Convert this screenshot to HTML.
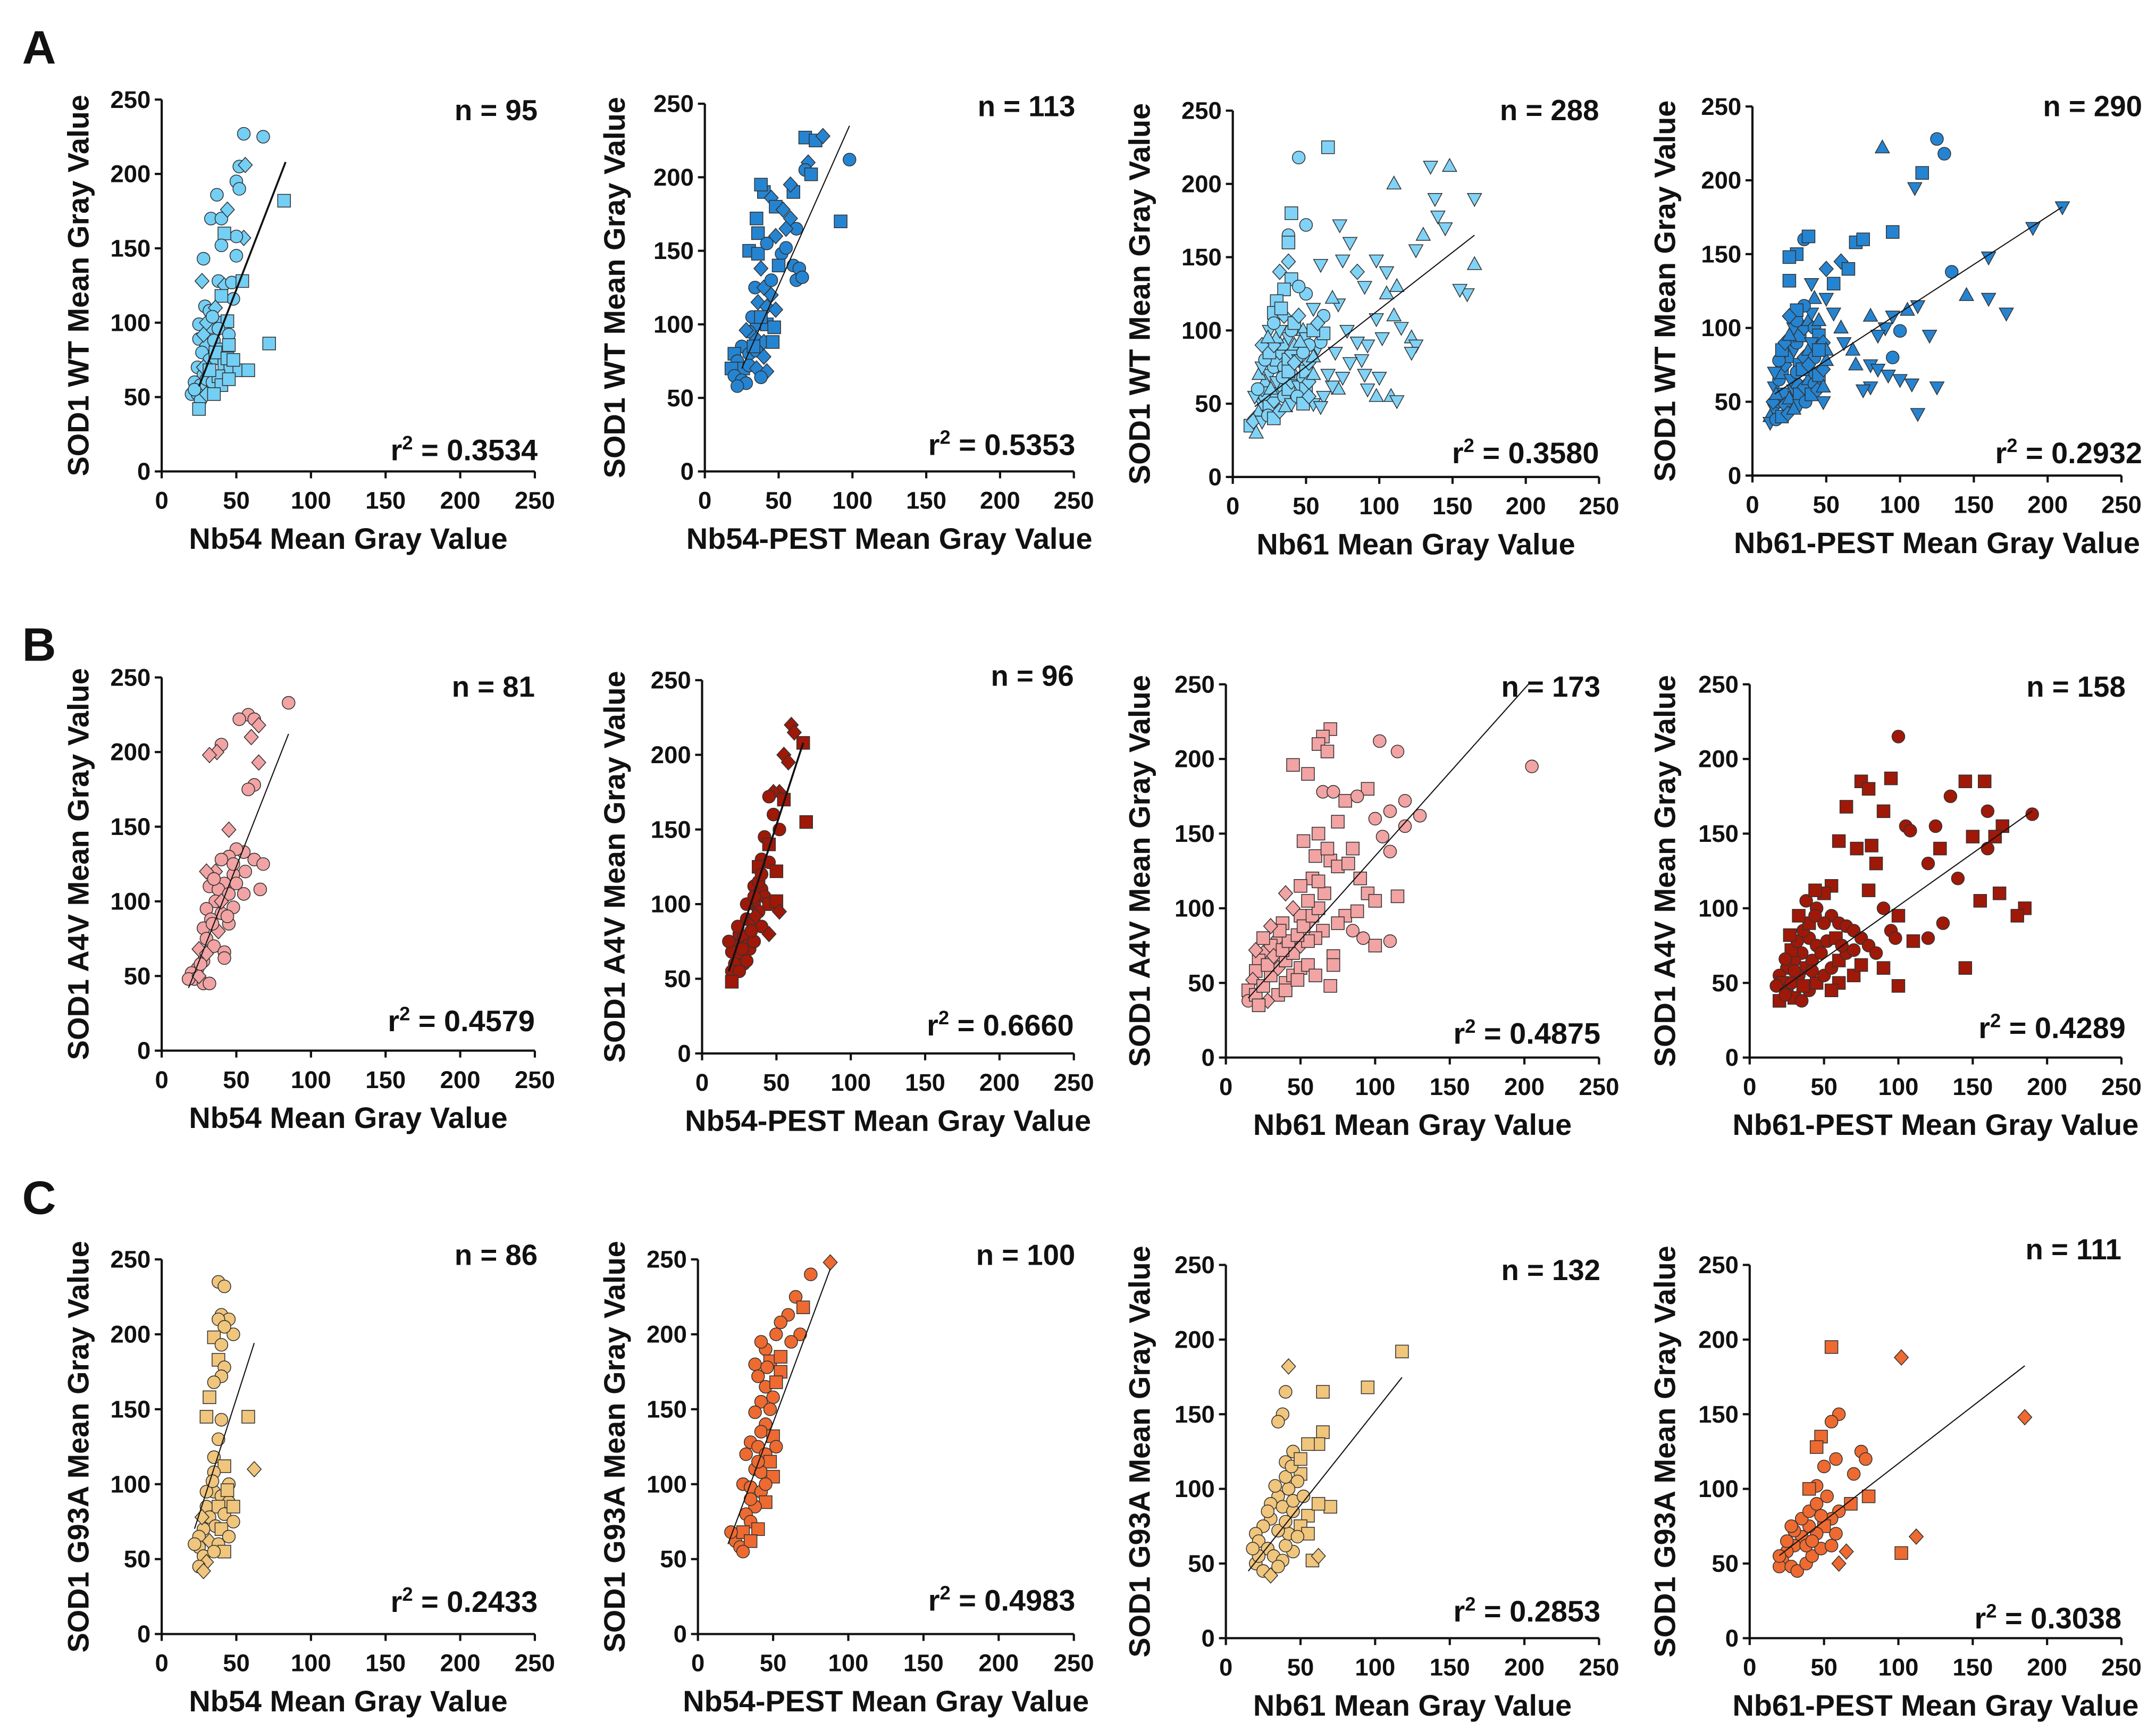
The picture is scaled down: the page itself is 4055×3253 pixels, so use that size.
<!DOCTYPE html>
<html><head><meta charset="utf-8"><style>
html,body{margin:0;padding:0;background:#fff}
svg{display:block}
text{font-family:"Liberation Sans",Arial,sans-serif;font-weight:bold;fill:#111}
</style></head><body>
<svg id="fig" xmlns="http://www.w3.org/2000/svg" width="4055" height="3253" viewBox="0 0 1560 1251.4">
<rect width="1560" height="1251.4" fill="#fff"/>
<text x="16" y="46" font-size="34">A</text>
<text x="16" y="478" font-size="34">B</text>
<text x="16" y="878" font-size="34">C</text>
</svg>
<script>
// ---- data (x, y, shape) ----
const A1=[[55,227,'c'],[68,225,'c'],[52,205,'c'],[56,206,'d'],[50,195,'c'],[52,190,'c'],[37,186,'c'],[33,170,'c'],[40,170,'c'],[44,176,'d'],[55,157,'d'],[50,158,'c'],[42,160,'s'],[40,152,'c'],[50,145,'c'],[28,143,'c'],[27,128,'d'],[38,128,'c'],[42,125,'d'],[47,127,'c'],[54,128,'s'],[48,116,'c'],[40,118,'s'],[29,111,'c'],[32,108,'c'],[36,110,'d'],[38,100,'s'],[44,101,'s'],[25,99,'c'],[33,97,'c'],[38,96,'c'],[45,92,'c'],[25,89,'c'],[30,85,'d'],[35,88,'c'],[40,82,'s'],[45,85,'s'],[27,80,'c'],[32,75,'c'],[36,76,'c'],[42,72,'s'],[46,70,'s'],[52,68,'s'],[58,68,'s'],[72,86,'s'],[82,182,'s'],[24,70,'c'],[28,65,'c'],[22,60,'c'],[26,58,'c'],[30,62,'c'],[34,60,'c'],[38,64,'s'],[40,58,'s'],[45,62,'s'],[20,52,'c'],[24,52,'c'],[26,48,'c'],[30,52,'d'],[35,52,'s'],[25,42,'s'],[22,55,'c'],[28,70,'d'],[32,68,'s'],[36,80,'s'],[44,76,'s'],[48,75,'s'],[30,100,'d'],[34,104,'c'],[28,92,'d']];
const A2=[[68,227,'s'],[75,225,'s'],[80,228,'d'],[70,210,'d'],[68,205,'c'],[72,202,'s'],[98,212,'c'],[92,170,'s'],[60,190,'s'],[40,190,'s'],[38,195,'s'],[45,186,'d'],[48,180,'s'],[53,178,'d'],[58,172,'d'],[62,165,'c'],[35,172,'s'],[36,162,'s'],[30,150,'s'],[36,148,'s'],[42,155,'c'],[48,160,'d'],[52,148,'c'],[55,152,'c'],[60,140,'c'],[64,138,'c'],[62,130,'c'],[66,132,'c'],[38,138,'d'],[34,125,'c'],[40,125,'d'],[45,120,'d'],[36,115,'d'],[42,112,'d'],[48,110,'d'],[35,100,'c'],[42,100,'s'],[47,98,'s'],[30,95,'c'],[35,90,'d'],[40,88,'d'],[46,88,'s'],[25,85,'c'],[30,80,'c'],[35,82,'c'],[40,78,'d'],[20,80,'s'],[22,75,'c'],[26,70,'s'],[30,72,'c'],[35,70,'d'],[18,70,'s'],[20,65,'c'],[25,62,'c'],[28,60,'c'],[42,68,'d'],[38,64,'c'],[32,105,'c'],[28,96,'d'],[45,130,'c'],[50,140,'s'],[55,165,'d'],[58,195,'d'],[22,58,'c'],[33,85,'s'],[38,105,'s']];
const A3=[[65,225,'s'],[45,218,'c'],[50,172,'c'],[40,180,'s'],[38,165,'c'],[38,160,'s'],[32,140,'d'],[38,147,'d'],[40,135,'s'],[73,172,'v'],[60,145,'v'],[80,160,'v'],[75,148,'v'],[98,148,'v'],[105,140,'v'],[90,130,'v'],[85,140,'d'],[110,200,'t'],[135,212,'v'],[148,212,'t'],[138,190,'v'],[165,190,'v'],[140,178,'v'],[145,170,'v'],[130,165,'t'],[125,155,'v'],[165,145,'t'],[160,125,'v'],[155,128,'v'],[112,130,'t'],[105,125,'t'],[98,108,'v'],[110,110,'t'],[115,102,'v'],[122,95,'t'],[125,90,'v'],[122,85,'v'],[102,95,'v'],[92,90,'v'],[85,92,'v'],[88,80,'v'],[80,78,'v'],[90,70,'v'],[75,68,'v'],[72,60,'t'],[100,68,'v'],[92,60,'v'],[98,55,'t'],[108,55,'t'],[112,52,'v'],[62,55,'v'],[55,50,'v'],[60,48,'v'],[68,62,'v'],[65,70,'v'],[70,85,'v'],[78,100,'v'],[62,110,'c'],[72,118,'v'],[68,122,'t'],[55,115,'v'],[50,125,'c'],[45,130,'c'],[35,128,'s'],[30,120,'s'],[28,112,'s'],[35,110,'d'],
[15,40],[18,45],[20,50],[22,55],[25,48],[28,52],[30,58],[32,62],[35,55],[38,60],[40,65],[42,70],[45,62],[48,68],[50,72],[52,78],[55,82],[58,88],[60,92],[62,98],[20,60],[22,65],[25,70],[28,75],[30,80],[32,85],[35,90],[38,95],[40,100],[42,105],[45,110],[48,100],[50,95],[52,90],[55,100],[58,105],[18,70],[20,75],[22,80],[25,85],[28,90],[30,95],[32,100],[35,75],[38,80],[40,85],[42,90],[45,80],[48,85],[50,60],[52,65],[55,70],[15,55],[17,60],[12,35],[14,38],[16,30],[20,38],[24,42],[28,40],[32,45],[36,48],[40,50],[44,55],[48,50],[52,55],[26,60],[30,65],[34,68],[38,72],[42,78],[46,92],[25,100],[28,105],[33,115],[20,90],[24,95]];
const A4=[[125,228,'c'],[130,218,'c'],[88,222,'t'],[115,205,'s'],[110,195,'v'],[95,165,'s'],[70,158,'s'],[75,160,'s'],[60,145,'d'],[65,140,'s'],[35,160,'c'],[38,162,'s'],[30,150,'s'],[25,148,'s'],[25,132,'s'],[50,140,'d'],[55,130,'s'],[210,182,'v'],[190,168,'v'],[160,148,'v'],[135,138,'c'],[145,122,'t'],[160,120,'v'],[172,110,'v'],[112,115,'v'],[105,112,'t'],[95,108,'v'],[100,98,'c'],[90,100,'v'],[80,108,'t'],[85,95,'v'],[120,95,'v'],[95,80,'c'],[80,75,'v'],[85,72,'v'],[92,68,'v'],[100,65,'v'],[108,62,'v'],[125,60,'v'],[80,60,'v'],[75,58,'v'],[112,42,'v'],[70,75,'t'],[68,85,'t'],[62,90,'v'],[60,100,'t'],[55,110,'v'],[50,120,'v'],
[12,40],[15,45],[18,50],[20,55],[22,48],[25,52],[28,58],[30,62],[32,55],[35,60],[38,65],[40,70],[42,62],[45,68],[48,72],[50,78],[15,60],[18,65],[20,70],[22,75],[25,80],[28,85],[30,90],[32,95],[35,100],[38,105],[40,110],[42,100],[45,95],[48,90],[50,85],[15,70],[18,78],[20,85],[22,90],[25,95],[28,100],[30,105],[32,75],[35,80],[38,85],[40,90],[42,80],[45,85],[14,50],[16,55],[12,36],[16,38],[20,40],[24,42],[28,45],[32,48],[36,50],[40,55],[44,58],[48,60],[26,65],[30,70],[34,72],[38,75],[42,120],[40,130],[35,115],[30,112],[25,108],[45,105],[48,50]];
const B1=[[85,233,'c'],[58,225,'c'],[52,222,'c'],[62,222,'c'],[65,218,'d'],[60,210,'d'],[40,205,'c'],[37,200,'d'],[32,198,'d'],[65,193,'d'],[62,178,'c'],[58,175,'c'],[45,148,'d'],[55,133,'c'],[50,135,'c'],[45,130,'c'],[40,128,'c'],[62,128,'c'],[68,125,'c'],[56,120,'c'],[36,120,'d'],[48,118,'c'],[30,120,'d'],[42,112,'c'],[32,110,'c'],[38,108,'c'],[50,112,'c'],[55,105,'c'],[66,108,'c'],[45,105,'c'],[36,100,'c'],[30,95,'c'],[40,92,'c'],[48,96,'c'],[33,88,'c'],[28,82,'c'],[38,80,'d'],[45,85,'c'],[30,75,'c'],[35,70,'c'],[42,66,'c'],[42,62,'c'],[25,68,'d'],[28,60,'c'],[24,55,'c'],[20,52,'c'],[22,48,'c'],[28,45,'c'],[18,48,'c'],[32,45,'c'],[25,50,'d'],[34,85,'c'],[40,100,'d'],[44,90,'c'],[26,58,'c'],[35,115,'c'],[48,125,'c'],[30,65,'d']];
const B2=[[60,220,'d'],[62,215,'d'],[68,208,'s'],[55,200,'d'],[58,195,'d'],[70,155,'s'],[52,175,'d'],[48,175,'d'],[45,172,'c'],[55,170,'s'],[48,160,'c'],[52,150,'c'],[42,145,'c'],[45,140,'s'],[40,130,'c'],[45,128,'c'],[38,125,'s'],[50,122,'s'],[35,112,'c'],[40,110,'c'],[42,105,'c'],[45,100,'s'],[50,102,'s'],[52,95,'d'],[35,100,'c'],[38,95,'c'],[30,90,'c'],[35,88,'c'],[40,85,'c'],[45,80,'d'],[25,80,'c'],[28,78,'c'],[30,72,'c'],[32,70,'c'],[22,72,'c'],[20,68,'c'],[25,65,'c'],[28,60,'c'],[22,60,'c'],[20,55,'c'],[25,55,'c'],[30,62,'c'],[35,75,'c'],[20,48,'s'],[18,75,'c'],[24,85,'c'],[30,100,'c'],[35,105,'c'],[38,115,'c'],[40,120,'c'],[27,70,'c'],[33,82,'c'],[36,92,'d']];
const B3=[[70,220,'s'],[65,215,'s'],[62,210,'s'],[68,205,'s'],[103,212,'c'],[115,205,'c'],[205,195,'c'],[45,196,'s'],[55,190,'s'],[95,180,'s'],[65,178,'c'],[72,178,'c'],[80,172,'s'],[120,172,'c'],[88,175,'c'],[110,165,'c'],[130,162,'c'],[100,160,'c'],[75,158,'s'],[62,150,'s'],[52,145,'s'],[105,148,'c'],[110,138,'c'],[120,155,'c'],[85,140,'s'],[60,135,'s'],[70,132,'s'],[75,128,'s'],[68,140,'s'],[82,130,'s'],[90,120,'s'],[95,110,'s'],[100,105,'s'],[115,108,'s'],[110,78,'c'],[100,75,'s'],[92,80,'c'],[85,85,'c'],[80,95,'s'],[88,98,'s'],[75,90,'s'],[72,68,'s'],[72,62,'s'],[65,85,'s'],[60,80,'s'],[55,90,'d'],[50,95,'s'],[45,100,'d'],[40,110,'d'],[38,90,'s'],[35,80,'d'],[30,75,'s'],[25,70,'d'],[22,65,'s'],[20,58,'s'],[18,52,'d'],[15,45,'s'],[15,38,'c'],[20,42,'s'],[25,48,'s'],[30,55,'s'],[35,60,'d'],[40,65,'s'],[45,70,'s'],[50,75,'d'],[55,78,'s'],[28,62,'s'],[32,68,'d'],[38,72,'s'],[42,78,'s'],[48,82,'s'],[52,88,'s'],[58,95,'s'],[62,100,'s'],[36,85,'s'],[30,88,'d'],[25,80,'s'],[20,72,'d'],[40,50,'s'],[45,55,'s'],[50,60,'s'],[55,62,'s'],[60,55,'s'],[35,42,'s'],[28,38,'d'],[22,35,'s'],[40,45,'s'],[48,52,'s'],[70,48,'s'],[66,110,'s'],[58,120,'s'],[50,115,'s'],[55,105,'s'],[62,118,'s']];
const B4=[[100,215,'c'],[75,185,'s'],[80,180,'s'],[95,187,'s'],[145,185,'s'],[158,185,'s'],[135,175,'c'],[65,168,'s'],[90,165,'s'],[190,163,'c'],[160,165,'c'],[105,155,'c'],[108,152,'c'],[125,155,'c'],[150,148,'s'],[170,155,'s'],[160,140,'c'],[165,148,'s'],[60,145,'s'],[72,140,'s'],[82,142,'s'],[85,130,'s'],[128,140,'s'],[120,130,'c'],[140,120,'c'],[168,110,'s'],[155,105,'s'],[185,100,'s'],[180,95,'s'],[130,90,'c'],[100,95,'s'],[90,100,'c'],[80,112,'s'],[95,85,'c'],[98,80,'c'],[110,78,'s'],[120,80,'c'],[55,115,'s'],[50,110,'s'],[45,100,'c'],[55,95,'c'],[60,90,'c'],[65,88,'c'],[70,85,'c'],[75,80,'c'],[80,75,'c'],[85,70,'c'],[90,60,'s'],[145,60,'s'],[100,48,'s'],[50,90,'c'],[40,80,'c'],[45,75,'c'],[35,70,'c'],[30,65,'c'],[25,60,'c'],[20,55,'c'],[22,50,'s'],[25,45,'c'],[30,40,'s'],[35,38,'c'],[40,45,'c'],[45,50,'s'],[50,55,'c'],[55,60,'c'],[60,65,'s'],[65,70,'c'],[70,72,'c'],[38,60,'s'],[42,65,'c'],[48,70,'c'],[52,78,'c'],[58,80,'s'],[62,75,'c'],[28,72,'s'],[32,78,'c'],[36,85,'c'],[40,90,'s'],[44,95,'c'],[20,38,'s'],[24,42,'c'],[60,50,'s'],[70,55,'s'],[75,62,'s'],[55,45,'s'],[33,55,'c'],[28,50,'c'],[18,48,'c'],[27,82,'s'],[33,95,'s'],[38,105,'c'],[44,112,'s'],[30,58,'c'],[36,48,'s'],[42,58,'c'],[24,66,'c']];
const C1=[[38,235,'c'],[42,232,'c'],[40,213,'c'],[45,210,'c'],[38,210,'c'],[48,200,'c'],[42,205,'c'],[35,198,'s'],[40,193,'c'],[38,183,'s'],[42,178,'c'],[40,172,'c'],[35,168,'c'],[32,158,'s'],[30,145,'s'],[58,145,'s'],[40,143,'c'],[38,130,'c'],[35,118,'c'],[42,112,'s'],[35,108,'c'],[62,110,'d'],[45,100,'c'],[35,95,'c'],[40,92,'c'],[45,88,'c'],[30,85,'c'],[38,85,'s'],[42,80,'c'],[48,85,'s'],[32,78,'c'],[36,72,'c'],[40,70,'s'],[28,70,'c'],[25,65,'c'],[32,62,'d'],[38,60,'c'],[42,55,'s'],[25,58,'c'],[28,52,'c'],[22,60,'c'],[30,48,'d'],[25,45,'c'],[28,42,'d'],[35,55,'c'],[45,65,'c'],[48,75,'c'],[30,95,'c'],[34,102,'c'],[27,78,'d'],[44,96,'s']];
const C2=[[88,248,'d'],[75,240,'c'],[65,225,'c'],[70,218,'s'],[60,213,'c'],[55,208,'c'],[52,200,'c'],[68,200,'c'],[62,195,'c'],[45,190,'c'],[42,195,'c'],[38,180,'c'],[48,182,'s'],[55,175,'s'],[40,172,'c'],[45,165,'c'],[52,168,'s'],[50,158,'c'],[42,155,'c'],[48,150,'c'],[38,148,'c'],[45,140,'c'],[42,135,'c'],[50,132,'s'],[35,128,'c'],[40,125,'c'],[45,120,'c'],[48,115,'s'],[38,110,'c'],[42,108,'c'],[50,105,'s'],[30,100,'c'],[35,98,'c'],[42,95,'c'],[45,88,'s'],[38,85,'c'],[32,80,'c'],[35,75,'c'],[40,70,'s'],[25,62,'c'],[28,58,'c'],[30,68,'s'],[35,62,'s'],[22,68,'c'],[30,55,'c'],[35,90,'c'],[40,115,'c'],[45,100,'c'],[52,125,'c'],[55,185,'s'],[32,120,'c'],[46,178,'c']];
const C3=[[118,192,'s'],[42,182,'d'],[40,165,'c'],[65,165,'s'],[95,168,'s'],[38,150,'c'],[35,145,'c'],[65,138,'s'],[62,130,'s'],[55,130,'s'],[45,125,'c'],[40,118,'c'],[50,110,'s'],[48,105,'c'],[42,100,'c'],[35,95,'c'],[30,90,'c'],[38,88,'c'],[45,85,'c'],[55,82,'s'],[70,88,'s'],[62,90,'s'],[50,75,'s'],[55,70,'s'],[30,80,'c'],[25,75,'c'],[20,70,'c'],[22,65,'c'],[28,60,'c'],[32,55,'c'],[38,52,'c'],[45,58,'c'],[58,52,'s'],[62,55,'d'],[20,50,'c'],[25,45,'c'],[30,42,'d'],[35,48,'c'],[40,62,'c'],[42,70,'c'],[48,68,'c'],[35,72,'c'],[40,78,'c'],[45,92,'c'],[52,95,'c'],[28,85,'c'],[22,55,'c'],[18,60,'c'],[33,102,'c'],[40,108,'c'],[44,115,'c'],[50,120,'s']];
const C4=[[185,148,'d'],[55,195,'s'],[102,188,'d'],[60,150,'c'],[55,145,'c'],[48,135,'s'],[45,128,'s'],[58,120,'c'],[75,125,'c'],[78,120,'c'],[50,115,'c'],[45,102,'c'],[40,100,'s'],[70,110,'c'],[80,95,'s'],[68,90,'s'],[60,85,'c'],[55,80,'c'],[50,75,'s'],[45,70,'c'],[40,75,'c'],[35,68,'c'],[30,62,'c'],[25,58,'c'],[22,52,'c'],[20,48,'c'],[28,48,'c'],[32,45,'c'],[38,50,'c'],[42,55,'c'],[48,60,'c'],[55,62,'c'],[65,58,'d'],[60,50,'d'],[112,68,'d'],[102,57,'s'],[30,72,'c'],[35,80,'c'],[40,85,'c'],[45,90,'c'],[25,65,'c'],[20,55,'c'],[28,75,'c'],[38,62,'c'],[52,95,'c'],[58,70,'c'],[48,82,'c'],[42,65,'c']];
// regression fits: slope, intercept, x-start, x-end
const fitSlope=[2.6,2.26,0.78,0.65,2.54,3.06,1.12,0.706,3.1,2.7,1.26,0.77];
const fitIntercept=[-7.8,13.5,36.3,45.5,-3.7,0,23,31,2,6,26,40];
const fitX0=[25,25,15,15,18,18,15,20,22,20,15,20];
const fitX1=[83,98,165,210,85,68,203,190,62,88,118,185];
const nLabels=['n = 95','n = 113','n = 288','n = 290','n = 81','n = 96','n = 173','n = 158','n = 86','n = 100','n = 132','n = 111'];
const r2Values=['0.3534','0.5353','0.3580','0.2932','0.4579','0.6660','0.4875','0.4289','0.2433','0.4983','0.2853','0.3038'];
const tickValues=[0,50,100,150,200,250];
const yTitles=['SOD1 WT Mean Gray Value','SOD1 A4V Mean Gray Value','SOD1 G93A Mean Gray Value'];
const xTitles=['Nb54 Mean Gray Value','Nb54-PEST Mean Gray Value','Nb61 Mean Gray Value','Nb61-PEST Mean Gray Value'];

const datasets=[A1,A2,A3,A4,B1,B2,B3,B4,C1,C2,C3,C4];
const colors=['#74CFF5','#2584D1','#80D3F7','#2584D1','#F2A3A3','#A01808','#F2A3A3','#A01808','#F0C57C','#EE6A30','#F0C57C','#EE6A30'];
// layout: [x0px, x250px, y0px, y250px, nY, r2Y, labelRight, yTitleX]
const L=[[117,387,341,72,80,325,389,57],[510,777,341,75,77,321,778,445],[892,1157,345,80,80,327,1157,825],[1268,1535,344,77,77,327,1550,1205],
[117,387,760,490,497,738,387,57],[508,777,762,492,489,741,777,445],[887,1157,765,495,497,747,1158,825],[1266,1535,765,495,497,743,1538,1205],
[117,387,1182,911,908,1158,389,57],[505,777,1182,911,908,1157,778,445],[887,1157,1185,915,919,1165,1158,825],[1266,1535,1185,915,904,1170,1535,1205]];
const NS='http://www.w3.org/2000/svg';
const svg=document.getElementById('fig');
function mk(tag,attrs,parent){const e=document.createElementNS(NS,tag);for(const k in attrs)e.setAttribute(k,attrs[k]);parent.appendChild(e);return e;}
const shapeCycle='csdtv';
datasets.forEach((data,p)=>{
  const [x0,x1,y0,y1,nY,rY,lr,ytx]=L[p];
  const sx=v=>x0+(x1-x0)*v/250, sy=v=>y0+(y1-y0)*v/250;
  const g=mk('g',{},svg);
  
  
  const pts=mk('g',{},g);
  
  
  const col=colors[p], r=4.6;
  data.forEach((d,i)=>{
    const cx=sx(d[0]), cy=sy(d[1]); const sh=d[2]||shapeCycle[i%5];
    let e; const st={fill:col,stroke:'#333','stroke-width':0.6};
    if(sh==='c') e=mk('circle',Object.assign({cx:cx,cy:cy,r:r},st),pts);
    else if(sh==='s') e=mk('rect',Object.assign({x:cx-r,y:cy-r,width:2*r,height:2*r},st),pts);
    else if(sh==='d') e=mk('polygon',Object.assign({points:`${cx},${cy-r*1.2} ${cx+r*1.1},${cy} ${cx},${cy+r*1.2} ${cx-r*1.1},${cy}`},st),pts);
    else if(sh==='t') e=mk('polygon',Object.assign({points:`${cx},${cy-r*1.2} ${cx+r*1.1},${cy+r*0.8} ${cx-r*1.1},${cy+r*0.8}`},st),pts);
    else e=mk('polygon',Object.assign({points:`${cx},${cy+r*1.2} ${cx+r*1.1},${cy-r*0.8} ${cx-r*1.1},${cy-r*0.8}`},st),pts);
    
    
  });
  const ln=mk('line',{x1:sx(fitX0[p]),y1:sy(fitSlope[p]*fitX0[p]+fitIntercept[p]),x2:sx(fitX1[p]),y2:sy(fitSlope[p]*fitX1[p]+fitIntercept[p]),stroke:'#111','stroke-width':p===0||p===5?1.4:0.8},g);
  
  
  const ax=mk('g',{stroke:'#111','stroke-width':1.6,fill:'none'},g);
  
  
  mk('line',{x1:x0,y1:y0,x2:x1,y2:y0},ax);
  mk('line',{x1:x0,y1:y0,x2:x0,y2:y1},ax);
  tickValues.forEach(t=>{
    mk('line',{x1:sx(t),y1:y0,x2:sx(t),y2:y0+5},ax);
    mk('line',{x1:x0,y1:sy(t),x2:x0-5,y2:sy(t)},ax);
    const tx=mk('text',{x:sx(t),y:y0+27,'font-size':17.5,'text-anchor':'middle'},g);tx.textContent=t;
    
    
    const ty=mk('text',{x:x0-8,y:sy(t)+6,'font-size':17.5,'text-anchor':'end'},g);ty.textContent=t;
    
    
  });
  const xt=mk('text',{x:(x0+x1)/2,y:y0+56,'font-size':21.5,'text-anchor':'middle'},g);xt.textContent=xTitles[p%4];
  
  
  const yc=(y0+y1)/2;
  const yt=mk('text',{x:ytx+7,y:yc,'font-size':21.5,'text-anchor':'middle',transform:`rotate(-90 ${ytx+7} ${yc})`},g);yt.textContent=yTitles[Math.floor(p/4)];
  
  
  const nt=mk('text',{x:lr,y:nY+7,'font-size':21,'text-anchor':'end'},g);nt.textContent=nLabels[p];
  
  
  const rt=mk('text',{x:lr,y:rY+8,'font-size':21.5,'text-anchor':'end'},g);
  
  
  const t1=mk('tspan',{},rt);t1.textContent='r';
  const t2=mk('tspan',{dy:-8,'font-size':14},rt);t2.textContent='2';
  const t3=mk('tspan',{dy:8},rt);t3.textContent=' = '+r2Values[p];
});
</script>
</body></html>
